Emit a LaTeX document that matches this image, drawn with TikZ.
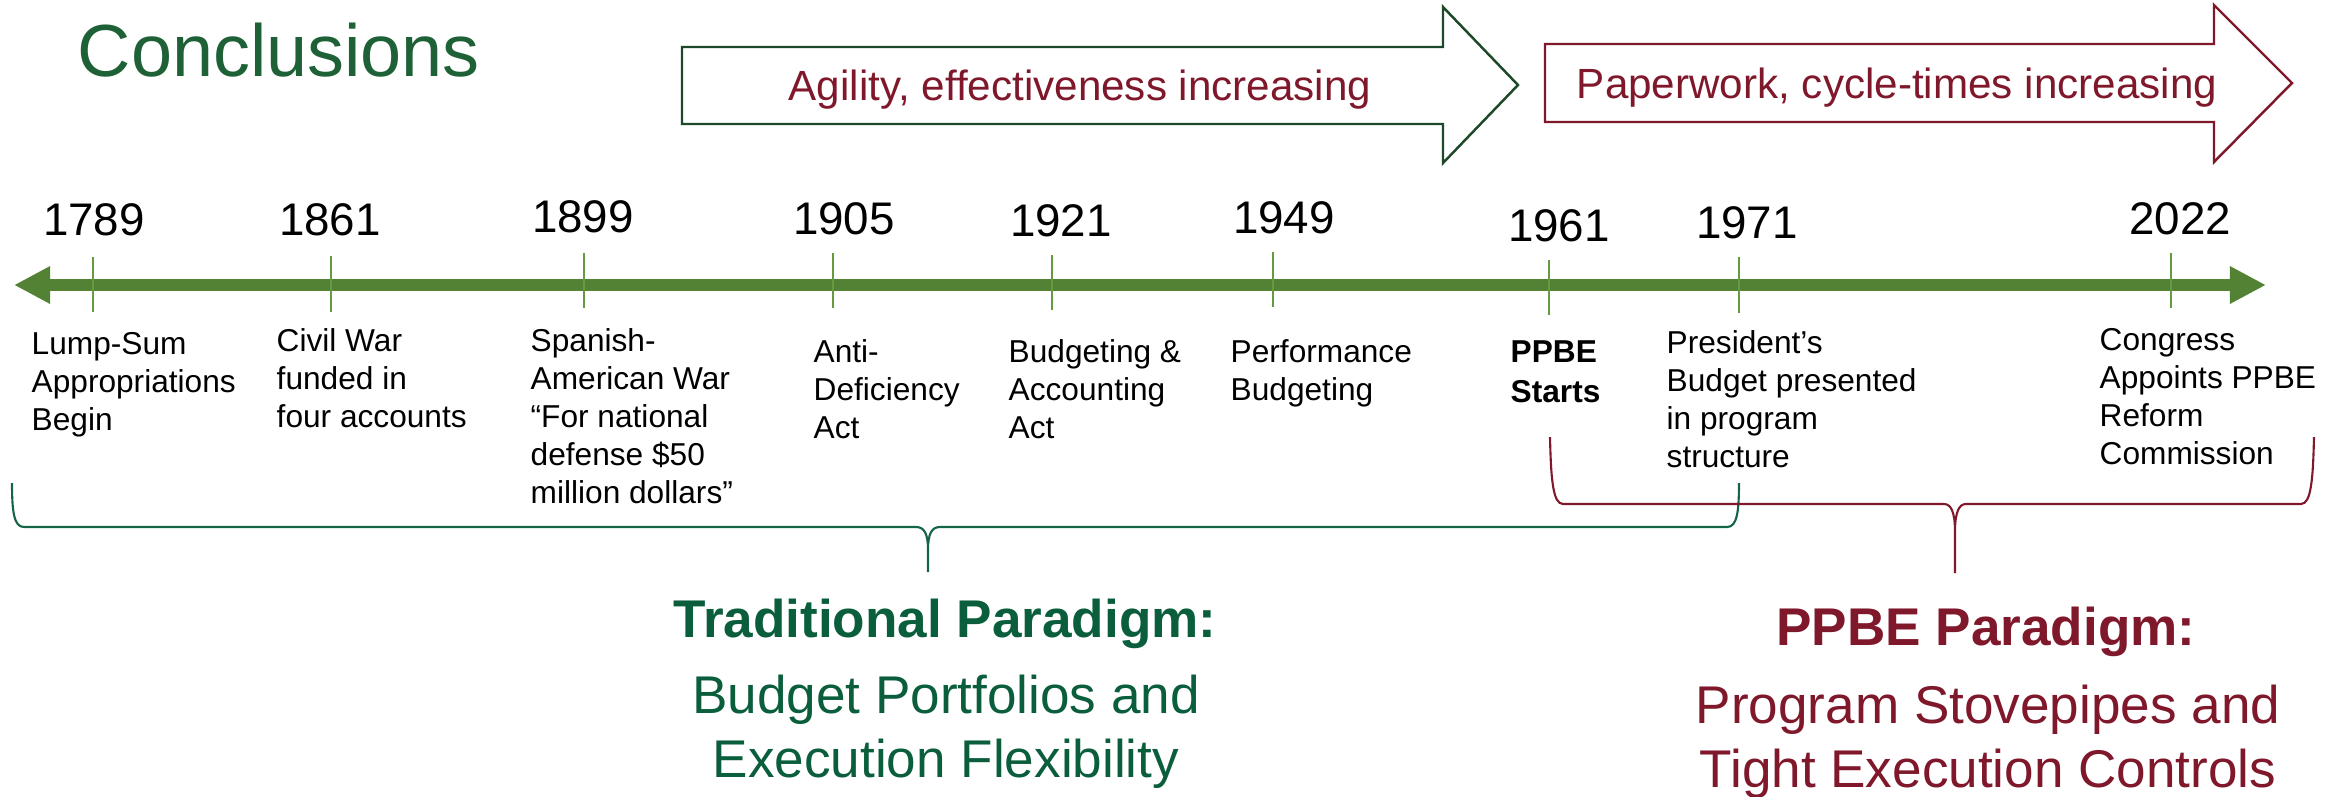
\documentclass[tikz,border=0pt]{standalone}
\usepackage{fontspec}
\setmainfont{Liberation Sans}
\usetikzlibrary{arrows.meta}
\definecolor{titlegreen}{RGB}{31,97,55}
\definecolor{paragreen}{RGB}{10,94,60}
\definecolor{bracegreen}{RGB}{20,100,70}
\definecolor{arrowgreen}{RGB}{30,72,42}
\definecolor{ppbered}{RGB}{128,24,44}
\definecolor{linegreen}{RGB}{84,130,53}
\definecolor{tickgreen}{RGB}{100,155,65}
\begin{document}
\begin{tikzpicture}[x=0.01cm,y=-0.01cm,
    year/.style={anchor=base,inner sep=0pt,font=\fontsize{13}{15}\selectfont},
    event/.style={anchor=base west,inner sep=0pt,align=left,font=\fontsize{9}{10.8}\selectfont},
    eventbold/.style={event,font=\fontsize{9}{11.1}\selectfont\bfseries},
    arrowtext/.style={anchor=base,inner sep=0pt,text=ppbered,font=\fontsize{12}{14}\selectfont},
    paradigm/.style={anchor=base,inner sep=0pt,align=center,font=\fontsize{15.1}{18.2}\selectfont},
    paradigmhead/.style={paradigm,font=\fontsize{15.1}{18.2}\selectfont\bfseries},
    blockarrow/.style={line width=0.7pt,fill=white},
    tickline/.style={tickgreen,line width=0.45pt},
    bracelines/.style={line width=0.6pt}]
    \useasboundingbox (0,0) rectangle (2341,796);
    %% title
    \node[anchor=base west,inner sep=0pt,text=titlegreen,font=\fontsize{21}{25}\selectfont] (title) at (77,76) {Conclusions};
    %% trend arrows
    \draw[blockarrow,draw=arrowgreen] (682,47) -- (1443,47) -- (1443,7) -- (1518,85) -- (1443,163) -- (1443,124) -- (682,124) -- cycle;
    \draw[blockarrow,draw=ppbered] (1545,44) -- (2214,44) -- (2214,5) -- (2292,83) -- (2214,162) -- (2214,122) -- (1545,122) -- cycle;
    \node[arrowtext] (agility) at (1080,100) {Agility, effectiveness increasing};
    \node[arrowtext] (paperwork) at (1897,98) {Paperwork, cycle-times increasing};
    %% timeline
    \coordinate (tlstart) at (14,285);
    \coordinate (tlend) at (2266,285);
    \draw[linegreen,line width=3.6pt,{Triangle[length=0.36cm,width=0.35cm]}-{Triangle[length=0.36cm,width=0.35cm]}] (tlstart) -- (tlend);
    \foreach \x/\t/\b in {93/257/312,331/256/312,584/253/308,833/253/308,1052/255/310,1273/252/307,1549/260/315,1739/257/313,2171/253/308}
        \draw[tickline] (\x,\t) -- (\x,\b);
    \foreach \yr/\x/\y in {1789/94/235,1861/330/235,1899/583/232,1905/844/234,1921/1061/236,1949/1284/233,1961/1559/241,1971/1747/238,2022/2180/234}
        \node[year] (y\yr) at (\x,\y) {\yr};
    %% events (base = last line)
    \node[event] (e1789) at (31,430) {Lump-Sum\\Appropriations\\Begin};
    \node[event] (e1861) at (276,427) {Civil War\\funded in\\four accounts};
    \node[event] (e1899) at (530,503) {Spanish-\\American War\\“For national\\defense \$50\\million dollars”};
    \node[event] (e1905) at (813,438) {Anti-\\Deficiency\\Act};
    \node[event] (e1921) at (1008,438) {Budgeting \&\\Accounting\\Act};
    \node[event] (e1949) at (1230,400) {Performance\\Budgeting};
    \node[eventbold] (e1961) at (1510,402) {PPBE\\Starts};
    \node[event] (e1971) at (1666,467) {President’s\\Budget presented\\in program\\structure};
    \node[event] (e2022) at (2099,464) {Congress\\Appoints PPBE\\Reform\\Commission};
    %% braces
    \draw[bracelines,bracegreen] (12,483) .. controls (12,512) and (14,527) .. (24,527) -- (916,527)
        .. controls (924,527) and (928,533) .. (928,550) -- (928,572)
        (928,550) .. controls (928,533) and (932,527) .. (940,527) -- (1727,527)
        .. controls (1737,527) and (1739,512) .. (1739,483);
    \draw[bracelines,ppbered] (1550,437) .. controls (1551,480) and (1553,504) .. (1563,504) -- (1944,504)
        .. controls (1951,504) and (1955,512) .. (1955,532) -- (1955,573)
        (1955,532) .. controls (1955,512) and (1959,504) .. (1966,504) -- (2301,504)
        .. controls (2311,504) and (2313,480) .. (2314,437);
    %% paradigms (base = last line)
    \node[paradigmhead,text=paragreen] (tradhead) at (945,637) {Traditional Paradigm:};
    \node[paradigm,text=paragreen] (tradbody) at (946,777) {Budget Portfolios and\\Execution Flexibility};
    \node[paradigmhead,text=ppbered] (ppbehead) at (1986,645) {PPBE Paradigm:};
    \node[paradigm,text=ppbered] (ppbebody) at (1988,787) {Program Stovepipes and\\Tight Execution Controls};
\end{tikzpicture}
\end{document}
